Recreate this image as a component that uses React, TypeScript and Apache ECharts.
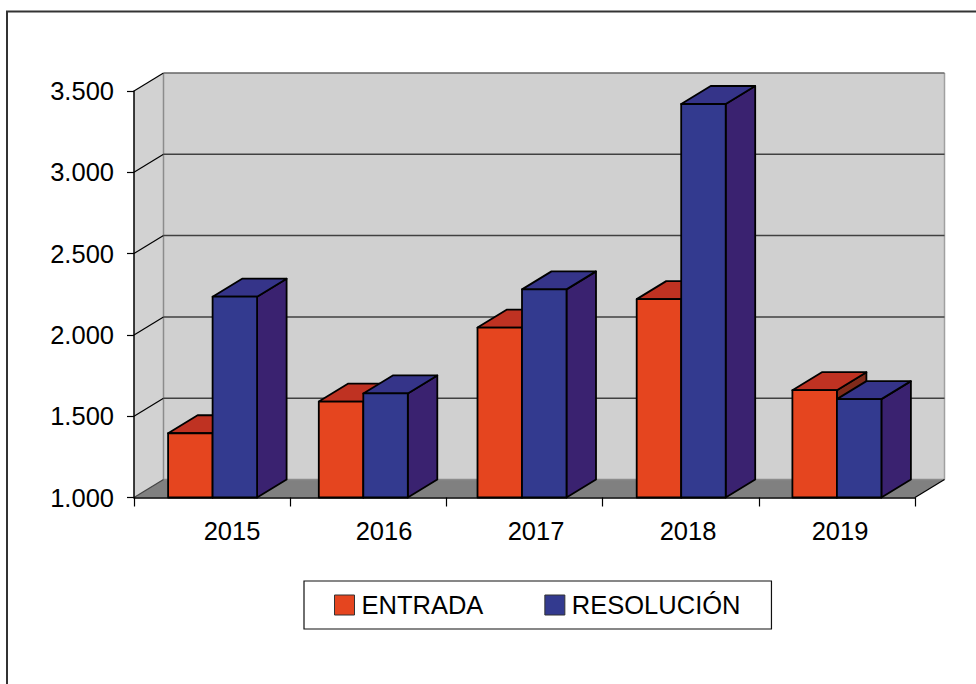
import React, { useEffect, useRef } from "react";
import * as echarts from "echarts";

const categories = ["2015", "2016", "2017", "2018", "2019"];
const entrada = [1395, 1590, 2045, 2220, 1660];
const resolucion = [2235, 1640, 2280, 3420, 1605];
const yTicks = [1000, 1500, 2000, 2500, 3000, 3500];

// Small shifts of each year's pair of bars in the source drawing (px)
const pairShift = [0.5, -5, -2.5, 0.5, 0];

const DX = 29.5;
const DY = -18;
const BAR_W = 44.5;

const palette = {
  red: { front: "#E5451F", top: "#BF3222", side: "#7F2A1A" },
  blue: { front: "#333A8F", top: "#353489", side: "#3A2270" },
};

function para(points: number[][], fill: string, stroke = "#000", lineWidth = 1.8) {
  return {
    type: "polygon",
    shape: { points },
    style: { fill, stroke, lineWidth, lineJoin: "round" },
  };
}

function barRenderer(side: number, c: { front: string; top: string; side: string }) {
  return (params: any, api: any) => {
    const i = api.value(0);
    const [cx, y] = api.coord([i, api.value(1)]);
    const [, y0] = api.coord([i, 1000]);
    const center = cx + pairShift[i];
    const x0 = side < 0 ? center - BAR_W : center;
    const x1 = x0 + BAR_W;
    return {
      type: "group",
      children: [
        para([[x1, y], [x1 + DX, y + DY], [x1 + DX, y0 + DY], [x1, y0]], c.side),
        para([[x0, y], [x0 + DX, y + DY], [x1 + DX, y + DY], [x1, y]], c.top),
        para([[x0, y], [x1, y], [x1, y0], [x0, y0]], c.front),
      ],
    };
  };
}

function wallRenderer(params: any, api: any) {
  const cs = params.coordSys;
  const L = cs.x;
  const R = cs.x + cs.width;
  const T = cs.y;
  const B = cs.y + cs.height;
  const children: any[] = [
    { type: "polygon", shape: { points: [[L, T], [L + DX, T + DY], [L + DX, B + DY], [L, B]] }, style: { fill: "#D2D2D2" } },
    { type: "rect", shape: { x: L + DX, y: T + DY, width: cs.width, height: cs.height }, style: { fill: "#D0D0D0" } },
    { type: "polygon", shape: { points: [[L, B], [L + DX, B + DY], [R + DX, B + DY], [R, B]] }, style: { fill: "#808080" } },
    { type: "line", shape: { x1: L + DX, y1: T + DY, x2: L + DX, y2: B + DY }, style: { stroke: "#8C8C8C", lineWidth: 1.5 } },
    { type: "line", shape: { x1: R + DX, y1: T + DY, x2: R + DX, y2: B + DY }, style: { stroke: "#A0A0A0", lineWidth: 1.5 } },
    { type: "line", shape: { x1: L + DX, y1: B + DY, x2: R + DX, y2: B + DY }, style: { stroke: "#8C8C8C", lineWidth: 1.5 } },
    { type: "line", shape: { x1: R, y1: B, x2: R + DX, y2: B + DY }, style: { stroke: "#000", lineWidth: 1.2 } },
    { type: "line", shape: { x1: L, y1: B, x2: L + DX, y2: B + DY }, style: { stroke: "#444", lineWidth: 1.2 } },
  ];
  yTicks.slice(1).forEach((v, idx) => {
    const y = api.coord([0, v])[1];
    children.push({ type: "line", shape: { x1: L, y1: y, x2: L + DX, y2: y + DY }, style: { stroke: "#000", lineWidth: 1.2 } });
    children.push({
      type: "line",
      shape: { x1: L + DX, y1: y + DY, x2: R + DX, y2: y + DY },
      style: { stroke: idx === yTicks.length - 2 ? "#666" : "#404040", lineWidth: 1.5 },
    });
  });
  return { type: "group", children };
}

const FONT = '"Liberation Sans", Arial, sans-serif';
const FONT_SIZE = 25.5;
const formatThousands = (v: number) => String(v).replace(/(\d)(\d{3})$/, "$1.$2");

export default function App() {
  const ref = useRef<HTMLDivElement>(null);
  useEffect(() => {
    document.body.style.margin = "0";
    document.body.style.overflow = "hidden";
    const chart = echarts.init(ref.current!, null, { renderer: "svg" });
    chart.setOption({
      animation: false,
      backgroundColor: "#fff",
      textStyle: { fontFamily: FONT },
      graphic: [
        {
          type: "rect",
          silent: true,
          z: 0,
          shape: { x: 7, y: 11.5, width: 1000, height: 1000 },
          style: { fill: "none", stroke: "#333", lineWidth: 2 },
        },
      ],
      grid: [
        { left: 134, right: 61, top: 91, bottom: 186.5 },
        { left: 156, right: 60, top: 91, bottom: 186.5 },
      ],
      xAxis: [
        {
          type: "category",
          data: categories,
          gridIndex: 0,
          z: 5,
          axisLine: { lineStyle: { color: "#000", width: 1.5 } },
          axisTick: { show: true, length: 9, alignWithLabel: false, lineStyle: { color: "#000", width: 1.2 } },
          axisLabel: { show: false },
        },
        {
          type: "category",
          data: categories,
          gridIndex: 1,
          axisLine: { show: false },
          axisTick: { show: false },
          axisLabel: { color: "#000", fontSize: FONT_SIZE, fontFamily: FONT, margin: 20 },
        },
      ],
      yAxis: [
        {
          type: "value",
          gridIndex: 0,
          min: 1000,
          max: 3500,
          interval: 500,
          z: 5,
          splitLine: { show: false },
          axisLine: { show: true, lineStyle: { color: "#000", width: 1.5 } },
          axisTick: { show: true, length: 7, lineStyle: { color: "#000", width: 1.2 } },
          axisLabel: {
            color: "#000",
            fontSize: FONT_SIZE,
            fontFamily: FONT,
            margin: 20,
            padding: [0, 0, 4, 0],
            formatter: formatThousands,
          },
        },
        { type: "value", gridIndex: 1, show: false, min: 1000, max: 3500 },
      ],
      legend: {
        left: 304,
        top: 581,
        orient: "horizontal",
        data: [
          { name: "ENTRADA", icon: "rect", itemStyle: { color: palette.red.front, borderColor: "#333", borderWidth: 1 } },
          { name: "RESOLUCIÓN", icon: "rect", itemStyle: { color: palette.blue.front, borderColor: "#333", borderWidth: 1 } },
        ],
        itemWidth: 20,
        itemHeight: 20,
        itemGap: 61,
        padding: [11, 31, 11, 30],
        backgroundColor: "#fff",
        borderColor: "#111",
        borderWidth: 1.2,
        textStyle: { color: "#000", fontSize: FONT_SIZE, fontFamily: FONT, padding: [0, 0, 0, 2] },
      },
      series: [
        {
          type: "custom",
          silent: true,
          z: 1,
          clip: false,
          xAxisIndex: 0,
          yAxisIndex: 0,
          data: [[0, 1000]],
          renderItem: wallRenderer,
        },
        {
          type: "custom",
          name: "ENTRADA",
          z: 2,
          clip: false,
          xAxisIndex: 0,
          yAxisIndex: 0,
          itemStyle: { color: palette.red.front },
          data: entrada.map((v, i) => [i, v]),
          renderItem: barRenderer(-1, palette.red),
        },
        {
          type: "custom",
          name: "RESOLUCIÓN",
          z: 3,
          clip: false,
          xAxisIndex: 0,
          yAxisIndex: 0,
          itemStyle: { color: palette.blue.front },
          data: resolucion.map((v, i) => [i, v]),
          renderItem: barRenderer(1, palette.blue),
        },
      ],
    });
    return () => chart.dispose();
  }, []);
  return <div ref={ref} style={{ width: 976, height: 684 }} />;
}
